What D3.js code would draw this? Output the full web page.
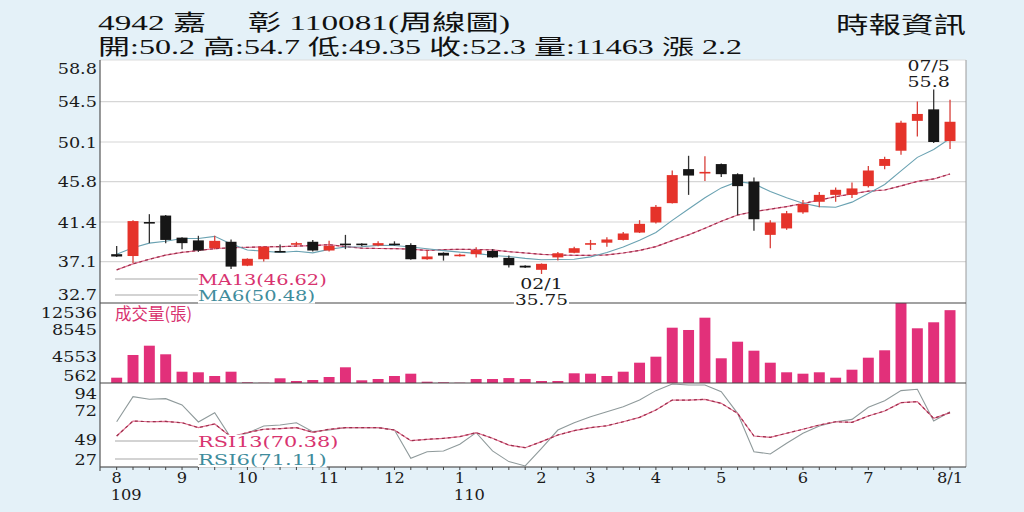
<!DOCTYPE html>
<html><head><meta charset="utf-8">
<script src="https://cdn.jsdelivr.net/npm/d3@7/dist/d3.min.js"></script>
<style>
html,body{margin:0;padding:0;background:#e4f1f8;}
svg{display:block;}
</style></head><body>
<svg id="c" width="1024" height="512"></svg>
<script>
// ---------------- data ----------------
const openP  = [37.9,37.7,41.4,42.1,39.7,39.4,38.55,39.25,36.65,37.35,38.25,39.0,39.25,38.3,39.05,39.05,38.85,39.05,38.9,37.35,38.05,37.7,37.9,38.25,37.5,36.65,36.2,37.55,38.05,39.0,39.15,39.45,40.25,41.35,43.45,47.15,46.8,47.7,46.6,45.8,40.0,40.7,42.45,43.6,44.35,44.35,45.3,47.5,49.15,52.4,53.65,50.2];
const highP  = [38.8,41.6,42.25,42.15,39.75,39.9,39.9,39.5,37.45,38.75,38.95,39.25,39.45,39.35,40.0,39.1,39.3,39.3,39.1,38.35,38.1,37.95,38.65,38.45,37.75,36.7,36.9,38.15,38.7,39.45,39.75,40.3,41.6,43.25,47.0,48.6,48.55,47.75,46.7,46.25,41.6,42.6,43.8,44.65,45.15,45.7,47.5,48.5,52.4,54.5,55.8,54.7];
const lowP   = [37.6,36.95,39.1,39.1,38.45,38.15,38.45,36.3,36.6,37.1,38.15,38.7,38.2,38.2,38.45,38.75,38.75,38.85,37.3,37.3,37.2,37.65,37.55,37.5,36.45,36.4,35.75,37.2,38.0,38.35,38.7,39.4,40.2,41.25,43.4,44.35,45.85,46.3,42.15,40.45,38.55,40.55,42.3,43.0,43.6,44.0,45.15,47.15,48.7,50.7,50.0,49.35];
const closeP = [37.65,41.5,41.35,39.45,39.1,38.3,39.35,36.55,37.4,38.7,38.2,39.1,38.3,38.8,38.95,38.9,39.1,39.0,37.35,37.65,37.75,37.85,38.35,37.55,36.7,36.45,36.85,38.0,38.55,39.1,39.5,40.15,41.2,43.05,46.5,46.45,46.85,46.6,45.3,41.7,41.35,42.35,43.35,44.35,44.9,45.05,47.0,48.25,52.2,53.15,50.1,52.3];
const volume = [1355,4754,6146,4858,2254,2164,1610,2254,667,600,1266,862,1011,1460,2912,966,1161,1610,1955,757,667,607,1161,1161,1300,1161,862,862,2014,1955,1610,2254,3601,4499,8840,8496,10337,4260,6745,5397,3601,2164,1955,2164,1355,2553,4349,5457,12536,8750,9649,11463];
const ma6  = [37.9,38.6,39.1,39.3,39.6,39.6,39.84,39.02,38.36,38.23,38.08,38.22,38.04,38.42,38.68,38.71,38.86,38.84,38.68,38.49,38.29,38.12,37.99,37.75,37.64,37.44,37.29,37.32,37.35,37.61,38.08,38.69,39.42,40.26,41.58,42.81,44.03,45.11,45.79,45.57,44.71,44.03,43.44,43.07,43.0,43.56,44.5,45.48,46.96,48.43,49.29,50.48];
const ma13 = [36.2,36.85,37.35,37.8,38.1,38.3,38.5,38.6,38.65,38.7,38.72,38.78,38.84,38.93,38.73,38.55,38.52,38.51,38.44,38.31,38.4,38.43,38.41,38.36,38.17,38.03,37.88,37.81,37.78,37.78,37.82,38.03,38.31,38.72,39.38,40.0,40.72,41.48,42.16,42.53,42.79,43.08,43.41,43.78,44.15,44.45,44.75,44.88,45.33,45.81,46.08,46.62];
const rsi6  = [63.1,83.1,81.0,81.5,76.5,62.9,70.3,50.0,54.0,59.7,60.5,62.3,55.2,56.5,58.4,58.4,58.4,56.5,33.9,39.2,39.8,45.1,54.4,39.8,31.3,27.8,41.9,56.5,62.3,67.1,71.1,75.1,80.4,87.9,93.2,92.4,92.4,87.1,69.8,39.2,37.4,45.9,53.9,59.7,63.1,65.0,74.6,79.9,87.9,89.0,63.7,71.11];
const rsi13 = [51.7,63.7,63.1,63.4,62.3,58.4,61.3,51.0,54.5,57.1,57.6,58.4,54.7,57.1,58.4,58.4,58.4,56.5,48.0,49.1,49.9,51.2,54.4,49.9,44.5,42.4,47.2,52.5,56.0,58.4,59.9,63.1,66.6,72.5,80.4,80.4,81.0,77.8,69.8,51.7,50.7,53.9,57.1,60.5,63.1,62.6,67.7,71.7,78.3,79.1,65.8,70.38];

const monthTickIdx = [0,4,8,13,17,21,26,29,33,37,42,46,51];
const monthLabels  = ["8","9","10","11","12","1","2","3","4","5","6","7","8/1"];
const yearTickIdx  = [0,21];
const yearLabels   = ["109","110"];
const priceTicks = ["58.8","54.5","50.1","45.8","41.4","37.1","32.7"];
const volTicks   = [12536,8545,4553,562];
const rsiTicks   = [94,72,49,27];
const highDateLabel = "07/5";
const lowDateLabel  = "02/1";

const titleText = "4942 嘉　 彰 110081(周線圖)";
const infoText  = "開:50.2 高:54.7 低:49.35 收:52.3 量:11463 漲 2.2";
const sourceText = "時報資訊";
const maLegend  = ["MA13(46.62)","MA6(50.48)"];
const rsiLegend = ["RSI13(70.38)","RSI6(71.11)"];
const volLegend = "成交量(張)";

// ---------------- layout ----------------
const W=1024,H=512;
const L=100,R=966;
const pTop=60,pBot=303,vTop=303,vBot=383,rTop=383,rBot=467;
const N = closeP.length;
const C_RED="#e5332a", C_BLK="#161616", C_VOL="#e2307a", C_PINK="#d8336f", C_TEAL="#3f8c9c";
const C_MA13="#9c2f4c", C_MA6="#6aa2b2", C_RSI6="#8f9a9b";
const serif = "'DejaVu Serif', serif";
const cjk = "'Liberation Serif','Noto Sans CJK TC',serif";

const svg=d3.select('#c');
svg.append('rect').attr('width',W).attr('height',H).attr('fill','#e4f1f8');
svg.append('rect').attr('x',L).attr('y',pTop).attr('width',R-L).attr('height',rBot-pTop).attr('fill','#fff');

const x = d3.scaleBand().domain(d3.range(N)).range([108.5,958.2]).paddingInner(0.33).paddingOuter(0.165);
const cx = i => x(i)+x.bandwidth()/2;
const yP = d3.scaleLinear().domain([32.7,58.8]).range([302,62]);
const yV = d3.scaleLinear().domain([562,12536]).range([vBot,vTop]);
const yR = d3.scaleLinear().domain([27,94]).range([rBot,rTop]);

// grid
svg.append('g').selectAll('line').data(priceTicks.slice(1,-1)).join('line')
  .attr('x1',L).attr('x2',R).attr('y1',d=>yP(+d)).attr('y2',d=>yP(+d))
  .attr('stroke','#d6d6d6').attr('stroke-width',1.2);

// clip paths
const defs=svg.append('defs');
defs.append('clipPath').attr('id','cp').append('rect').attr('x',L).attr('y',pTop).attr('width',R-L).attr('height',pBot-pTop);
defs.append('clipPath').attr('id','cr').append('rect').attr('x',L).attr('y',rTop).attr('width',R-L).attr('height',rBot-rTop);

// MA lines
const gP = svg.append('g').attr('clip-path','url(#cp)');
const lineP = d3.line().x((d,i)=>cx(i)).y(d=>yP(d));
gP.append('path').attr('d',lineP(ma13)).attr('fill','none').attr('stroke','#e07090').attr('stroke-width',1.2);
gP.append('path').attr('d',lineP(ma13)).attr('fill','none').attr('stroke',C_MA13).attr('stroke-width',1.2).attr('stroke-dasharray','3,3');
gP.append('path').attr('d',lineP(ma6)).attr('fill','none').attr('stroke',C_MA6).attr('stroke-width',1.1);

// candles
const idx = d3.range(N);
const col = i => closeP[i] >= openP[i] ? C_RED : C_BLK;
gP.append('g').selectAll('line').data(idx).join('line')
  .attr('x1',cx).attr('x2',cx).attr('y1',i=>yP(highP[i])).attr('y2',i=>yP(lowP[i]))
  .attr('stroke',i=>closeP[i]>=openP[i]?'#d8403a':'#333').attr('stroke-width',1.3);
gP.append('g').selectAll('rect').data(idx).join('rect')
  .attr('x',i=>x(i)).attr('width',x.bandwidth())
  .attr('y',i=>yP(Math.max(openP[i],closeP[i])))
  .attr('height',i=>Math.max(1.6, Math.abs(yP(openP[i])-yP(closeP[i]))))
  .attr('fill',col);

// volume
svg.append('g').selectAll('rect').data(idx).join('rect')
  .attr('x',i=>x(i)).attr('width',x.bandwidth())
  .attr('y',i=>yV(volume[i])).attr('height',i=>Math.max(0,vBot-yV(volume[i])))
  .attr('fill',C_VOL);

// RSI
const gR = svg.append('g').attr('clip-path','url(#cr)');
const lineR = d3.line().x((d,i)=>cx(i)).y(d=>yR(d));
gR.append('path').attr('d',lineR(rsi6)).attr('fill','none').attr('stroke',C_RSI6).attr('stroke-width',1.1);
gR.append('path').attr('d',lineR(rsi13)).attr('fill','none').attr('stroke','#e07090').attr('stroke-width',1.2);
gR.append('path').attr('d',lineR(rsi13)).attr('fill','none').attr('stroke',C_MA13).attr('stroke-width',1.2).attr('stroke-dasharray','3,3');

// frame lines
svg.append('line').attr('x1',L).attr('x2',R).attr('y1',pTop).attr('y2',pTop).attr('stroke','#dcdcdc');
svg.append('line').attr('x1',R).attr('x2',R).attr('y1',pTop).attr('y2',rBot).attr('stroke','#9a9a9a');
[pBot,vBot].forEach(yy=>svg.append('line').attr('x1',L).attr('x2',R).attr('y1',yy).attr('y2',yy).attr('stroke','#444').attr('stroke-width',1.2));
svg.append('line').attr('x1',L).attr('x2',R).attr('y1',rBot).attr('y2',rBot).attr('stroke','#333').attr('stroke-width',1.2);
svg.append('line').attr('x1',L).attr('x2',L).attr('y1',pTop).attr('y2',rBot+4).attr('stroke','#555').attr('stroke-width',1.2);

// legends with white background
function legend(items, colors, ys){
  items.forEach((t,k)=>{
    svg.append('line').attr('x1',115).attr('x2',198).attr('y1',ys[k]).attr('y2',ys[k]).attr('stroke','#a8a8a8').attr('stroke-width',1.2);
    const tx = svg.append('text').attr('x',198).attr('y',ys[k]).attr('dy','0.36em')
      .attr('font-family',serif).attr('font-size',15.5).attr('fill',colors[k])
      .attr('textLength',t.length*11.7).attr('lengthAdjust','spacingAndGlyphs').text(t);
    const bb = tx.node().getBBox();
    svg.insert('rect',()=>tx.node()).attr('x',bb.x).attr('y',bb.y+2).attr('width',bb.width).attr('height',bb.height-3).attr('fill','#fff');
  });
}
legend(maLegend,[C_PINK,C_TEAL],[279,295]);
legend(rsiLegend,[C_PINK,C_TEAL],[441,459]);
svg.append('text').attr('x',115).attr('y',320).attr('font-family',"'Noto Sans CJK TC',sans-serif")
  .attr('font-size',16.5).attr('fill',C_PINK).text(volLegend);

// axis labels
const clampY=(v,a,b)=>Math.max(a,Math.min(b,v));
function yLabels(ticks, scale, top, bot){
  svg.append('g').selectAll('text').data(ticks).join('text')
    .attr('x',97).attr('y',d=>clampY(scale(+d),top,bot)).attr('dy','0.36em')
    .attr('text-anchor','end').attr('font-family',serif).attr('font-size',15.5).attr('fill','#1a1a1a')
    .text(d=>d)
    .each(function(){ const w=this.getComputedTextLength(); d3.select(this).attr('textLength',w*1.14).attr('lengthAdjust','spacingAndGlyphs'); });
}
yLabels(priceTicks,yP,pTop+8,pBot-9);
yLabels(volTicks,yV,vTop+9,vBot-8);
yLabels(rsiTicks,yR,rTop+10,rBot-8);

// x axis ticks
svg.append('g').selectAll('line').data(idx).join('line')
  .attr('x1',cx).attr('x2',cx).attr('y1',rBot).attr('y2',rBot+3).attr('stroke','#444');
svg.append('g').selectAll('text').data(monthTickIdx).join('text')
  .attr('x',d=>cx(d)).attr('y',482.5).attr('text-anchor','middle')
  .attr('font-family',serif).attr('font-size',14.5).attr('fill','#1a1a1a').text((d,k)=>monthLabels[k])
  .each(function(){ const w=this.getComputedTextLength(); d3.select(this).attr('textLength',w*1.12).attr('lengthAdjust','spacingAndGlyphs'); });
svg.append('g').selectAll('text').data(yearTickIdx).join('text')
  .attr('x',d=>cx(d)-6).attr('y',499.5).attr('text-anchor','start')
  .attr('font-family',serif).attr('font-size',14.5).attr('fill','#1a1a1a').text((d,k)=>yearLabels[k])
  .each(function(){ const w=this.getComputedTextLength(); d3.select(this).attr('textLength',w*1.12).attr('lengthAdjust','spacingAndGlyphs'); });

// extreme annotations
const hi = d3.maxIndex(highP), lo = d3.minIndex(lowP);
function annot(i, dx, lines, ys, bg){
  lines.forEach((t,k)=>{
    const tx = svg.append('text').attr('x',cx(i)+dx).attr('y',ys[k]).attr('text-anchor','middle')
      .attr('font-family',serif).attr('font-size',15).attr('fill','#1a1a1a')
      .attr('textLength',t.length*10.6).attr('lengthAdjust','spacingAndGlyphs').text(t);
    if(bg){
      const bb=tx.node().getBBox();
      svg.insert('rect',()=>tx.node()).attr('x',bb.x-1).attr('y',bb.y+2).attr('width',bb.width+2).attr('height',bb.height-3).attr('fill','#fff');
    }
  });
}
annot(hi,-5,[highDateLabel,String(highP[hi])],[yP(highP[hi])-19,yP(highP[hi])-3],false);
annot(lo,0,[lowDateLabel,String(lowP[lo])],[yP(lowP[lo])+15,yP(lowP[lo])+31],true);

// header
svg.append('text').attr('x',98).attr('y',30).attr('font-family',cjk).attr('font-size',22).attr('fill','#111')
  .attr('textLength',412).attr('lengthAdjust','spacingAndGlyphs').text(titleText);
svg.append('text').attr('x',98).attr('y',54).attr('font-family',cjk).attr('font-size',21).attr('fill','#111')
  .attr('textLength',644).attr('lengthAdjust','spacingAndGlyphs').text(infoText);
svg.append('text').attr('x',836).attr('y',33).attr('font-family',cjk).attr('font-size',23).attr('fill','#111')
  .attr('textLength',130).attr('lengthAdjust','spacingAndGlyphs').text(sourceText);
</script>
</body></html>
